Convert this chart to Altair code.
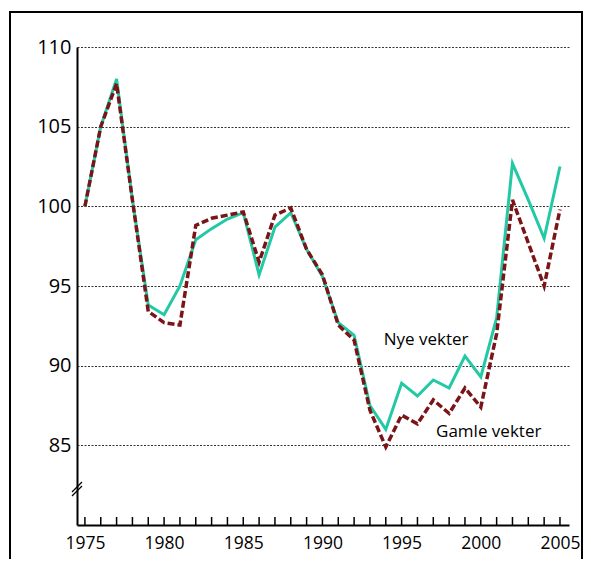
import altair as alt
import pandas as pd

years = list(range(1975, 2006))
nye_vekter = [100, 105, 108, 100.4, 93.8, 93.2, 95.0, 97.9, 98.6, 99.2, 99.6,
               95.7, 98.7, 99.6, 97.3, 95.6, 92.7, 91.9, 87.5, 86.0, 88.9,
               88.1, 89.1, 88.6, 90.6, 89.3, 93.0, 102.7, 100.4, 98.0, 102.5]
gamle_vekter = [100, 105, 107.7, 100.4, 93.4, 92.7, 92.55, 98.8, 99.25, 99.45, 99.65,
                96.5, 99.45, 99.9, 97.3, 95.7, 92.55, 91.6, 87.2, 84.9, 86.9,
                86.35, 87.85, 87.0, 88.6, 87.4, 92.0, 100.4, 97.7, 95.0, 99.8]
x_tick_labels = [1975, 1980, 1985, 1990, 1995, 2000, 2005]
y_tick_labels = [85, 90, 95, 100, 105, 110]
annot_labels = ["Nye vekter", "Gamle vekter"]
annot_years = [1996.55, 2000.5]
annot_values = [91.3, 85.5]

GREEN = "#22c9a4"
RED = "#7a1416"
FONT = "Open Sans"
W, H = 492, 478

df = pd.DataFrame({"year": years, "nye": nye_vekter, "gamle": gamle_vekter})
xs = alt.Scale(domain=[1974.5, 2005.57], nice=False)
ys = alt.Scale(domain=[80, 110], nice=False)

base = alt.Chart(df)

green = base.mark_line(color=GREEN, strokeWidth=3).encode(
    x=alt.X("year:Q", scale=xs, title=None,
            axis=alt.Axis(values=x_tick_labels, format="d", grid=False, ticks=False,
                          domainColor="black", domainWidth=2, labelFontSize=17.5,
                          labelFont=FONT, labelColor="black", labelPadding=9)),
    y=alt.Y("nye:Q", scale=ys, title=None,
            axis=alt.Axis(values=y_tick_labels, grid=True, ticks=False,
                          gridColor="#333333", gridDash=[2, 1.5], gridWidth=1,
                          domainColor="black", domainWidth=2, labelFontSize=20,
                          labelFont=FONT, labelColor="black", labelPadding=6)),
)

red = base.mark_line(color=RED, strokeWidth=3.5, strokeDash=[7, 3]).encode(
    x=alt.X("year:Q", scale=xs),
    y=alt.Y("gamle:Q", scale=ys),
)

ticks = alt.Chart(pd.DataFrame({"year": years})).mark_rule(
    color="black", strokeWidth=1.5
).encode(
    x=alt.X("year:Q", scale=xs),
    y=alt.value(H),
    y2=alt.value(H - 8),
)

border = alt.Chart(pd.DataFrame({"a": [0]})).mark_rect(
    fill="transparent", stroke="black", strokeWidth=2
).encode(
    x=alt.value(-67), x2=alt.value(505), y=alt.value(-35), y2=alt.value(540)
)

brk1 = alt.Chart(pd.DataFrame({"a": [0]})).mark_rule(color="black", strokeWidth=1.2).encode(
    x=alt.value(-5), x2=alt.value(5), y=alt.value(445), y2=alt.value(435)
)
brk2 = alt.Chart(pd.DataFrame({"a": [0]})).mark_rule(color="black", strokeWidth=1.2).encode(
    x=alt.value(-5), x2=alt.value(5), y=alt.value(449), y2=alt.value(439)
)

adf = pd.DataFrame({"label": annot_labels, "year": annot_years, "value": annot_values})
text = alt.Chart(adf).mark_text(
    font=FONT, fontSize=17, color="black", align="center", baseline="alphabetic"
).encode(
    x=alt.X("year:Q", scale=xs),
    y=alt.Y("value:Q", scale=ys),
    text="label:N",
)

chart = alt.layer(border, green, red, ticks, brk1, brk2, text).properties(
    width=W,
    height=H,
    autosize=alt.AutoSizeParams(type="none"),
    padding={"left": 69, "top": 39, "right": 14, "bottom": 34},
    background="white",
).configure_view(stroke=None)

chart.save("out.html", embed_options={"renderer": "svg", "actions": False})
